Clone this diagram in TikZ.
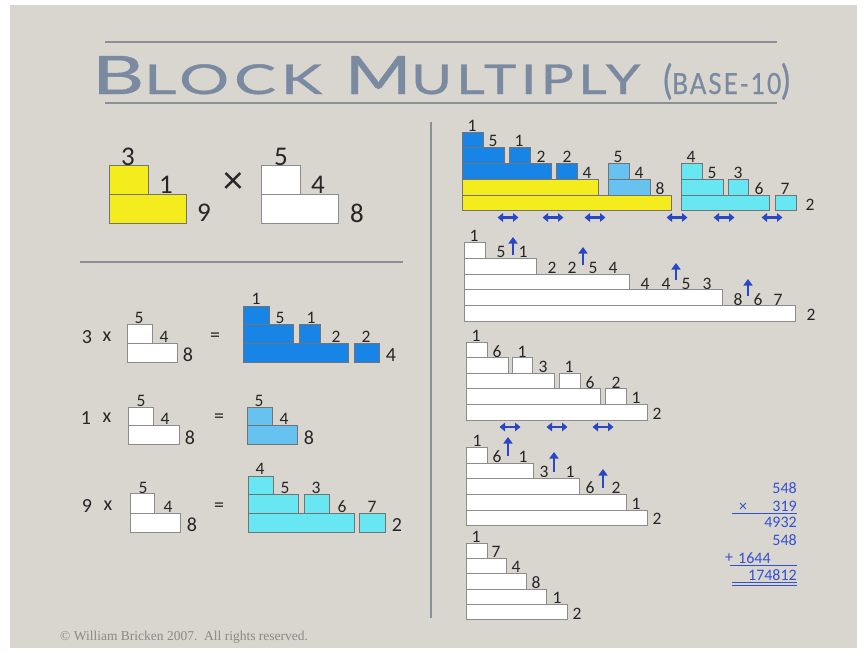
\documentclass[tikz,border=0pt]{standalone}
\usepackage{fontspec}
\setmainfont{Carlito}
\newfontfamily\titlefont[LetterSpace=8,FakeBold=0.8]{Lato}
\newfontfamily\copyfont{Liberation Serif}
\usetikzlibrary{arrows.meta}
\definecolor{slide}{HTML}{D9D6D0}
\definecolor{rulec}{HTML}{8C8F97}
\definecolor{titlec}{HTML}{7A8AA1}
\definecolor{ylw}{HTML}{F5EC1E}
\definecolor{dblue}{HTML}{1784E6}
\definecolor{lblue}{HTML}{68C2F0}
\definecolor{cyanb}{HTML}{68E6F2}
\definecolor{arrowb}{HTML}{2A46C8}
\definecolor{mathb}{HTML}{3450D2}
\definecolor{labc}{HTML}{262626}
\definecolor{copyc}{HTML}{8A8986}
\tikzset{
  blk/.style={draw=black!55, line width=0.7pt},
  wblk/.style={draw=black!45, fill=white, line width=0.8pt},
  lab/.style={inner sep=0pt, text=labc, font=\fontsize{17.5}{17.5}\selectfont},
  biglab/.style={inner sep=0pt, text=labc, font=\fontsize{27}{27}\selectfont},
  midlab/.style={inner sep=0pt, text=labc, font=\fontsize{20}{20}\selectfont},
  uparr/.style={draw=arrowb, line width=2.8pt, -{Triangle[length=6.5pt,width=9pt]}},
  dblarr/.style={draw=arrowb, line width=2.4pt, {Triangle[length=5.5pt,width=8.5pt]}-{Triangle[length=5.5pt,width=8.5pt]}},
  rulel/.style={draw=rulec, line width=1.6pt},
  mathtxt/.style={inner sep=0pt, text=mathb, font=\fontsize{16}{16}\selectfont},
  mathln/.style={draw=mathb, line width=0.9pt},
}
\begin{document}
\begin{tikzpicture}[x=1pt,y=-1pt]
\useasboundingbox (0,0) rectangle (865,651);
\fill[white] (0,0) rectangle (865,651);
\fill[slide] (10,5) rectangle (857,648);

% title
\draw[rulel] (105,42) -- (777,42);
\draw[rulel] (105,103) -- (777,103);
\node[anchor=base west, inner sep=0pt, text=titlec] (t1) at (92,94)
  {\resizebox{230pt}{38pt}{\titlefont\fontsize{40}{40}\selectfont B\fontsize{31}{31}\selectfont LOCK}};
\node[anchor=base west, inner sep=0pt, text=titlec] (t2) at (345,94)
  {\resizebox{295pt}{38pt}{\titlefont\fontsize{40}{40}\selectfont M\fontsize{31}{31}\selectfont ULTIPLY}};
\node[anchor=base west, inner sep=0pt, text=titlec] (t3) at (663,94)
  {\resizebox{127pt}{31pt}{\titlefont\fontsize{33}{33}\selectfont(\fontsize{24}{24}\selectfont BASE-10\fontsize{33}{33}\selectfont)}};

% dividers
\draw[rulel] (80,262) -- (403,262);
\draw[rulel] (431,122) -- (431,618);

% top-left factors
\draw[blk, fill=ylw] (109,165) rectangle (148,194);
\draw[blk, fill=ylw] (109,194) rectangle (186,223);
\draw[wblk] (261,165) rectangle (300,194);
\draw[wblk] (261,194) rectangle (338,223);
\foreach \x/\y/\t [count=\i] in {128/157/3,166/185/1,204/213/9,281/157/5,318/185/4,357/213/8}
  \node[biglab] (tl\i) at (\x,\y) {\t};
\node[inner sep=0pt, text=labc, font=\fontsize{40}{40}\selectfont] (tlx) at (233,183) {×};

% row 3 x
\node[midlab] (r1a) at (87,337) {3};
\node[midlab] (r1b) at (107,337) {x};
\draw[wblk] (127,324) rectangle (152,343);
\draw[wblk] (127,343) rectangle (177,362);
\node[midlab] (r1eq) at (215,337) {=};
\foreach \a/\b/\c/\d in {243/306/269/324,243/324/293/343,299/324/320/343,243/343/348/362,354/343/379/362}
  \draw[blk, fill=dblue] (\a,\b) rectangle (\c,\d);
\foreach \x/\y/\t [count=\i] in {139/318/5,164/337/4,256/299/1,280/318/5,311/318/1,336/337/2,366/337/2}
  \node[lab] (r1l\i) at (\x,\y) {\t};
\node[midlab] (r1l8) at (188,355) {8};
\node[midlab] (r1l9) at (391,355) {4};

% row 1 x
\node[midlab] (r2a) at (86,418) {1};
\node[midlab] (r2b) at (107,418) {x};
\draw[wblk] (128,407) rectangle (153,425);
\draw[wblk] (128,425) rectangle (179,444);
\node[midlab] (r2eq) at (219,418) {=};
\draw[blk, fill=lblue] (247,407) rectangle (272,425);
\draw[blk, fill=lblue] (247,425) rectangle (297,444);
\foreach \x/\y/\t [count=\i] in {141/401/5,165/419/4,259/401/5,284/419/4}
  \node[lab] (r2l\i) at (\x,\y) {\t};
\node[midlab] (r2l5) at (190,438) {8};
\node[midlab] (r2l6) at (309,438) {8};

% row 9 x
\node[midlab] (r3a) at (87,506) {9};
\node[midlab] (r3b) at (108,506) {x};
\draw[wblk] (130,493) rectangle (154,513);
\draw[wblk] (130,513) rectangle (180,532);
\node[midlab] (r3eq) at (219,507) {=};
\foreach \a/\b/\c/\d in {248/476/273/494,248/494/298/513,304/494/329/513,248/513/354/532,359/513/385/532}
  \draw[blk, fill=cyanb] (\a,\b) rectangle (\c,\d);
\foreach \x/\y/\t [count=\i] in {143/488/5,168/507/4,260/469/4,285/488/5,316/488/3,342/507/6,372/507/7}
  \node[lab] (r3l\i) at (\x,\y) {\t};
\node[midlab] (r3l8) at (192,525) {8};
\node[midlab] (r3l9) at (397,525) {2};

% right: stacked partial products
\foreach \a/\b/\c/\d in {462/132/483/147,462/147/504/163,509/147/530/163,462/163/551/179,556/163/577/179}
  \draw[blk, fill=dblue] (\a,\b) rectangle (\c,\d);
\draw[blk, fill=ylw] (462,179) rectangle (598,195);
\draw[blk, fill=ylw] (462,195) rectangle (671,210);
\draw[blk, fill=lblue] (608,163) rectangle (629,179);
\draw[blk, fill=lblue] (608,179) rectangle (650,195);
\foreach \a/\b/\c/\d in {681/163/702/179,681/179/723/195,728/179/748/195,681/195/769/210,775/195/796/210}
  \draw[blk, fill=cyanb] (\a,\b) rectangle (\c,\d);
\foreach \x/\y/\t [count=\i] in {472/126/1,493/141/5,519/141/1,541/157/2,567/157/2,587/173/4,618/157/5,639/173/4,660/189/8,691/157/4,712/173/5,738/173/3,759/189/6,785/189/7,810/205/2}
  \node[lab] (sa\i) at (\x,\y) {\t};
\foreach \x [count=\i] in {508,553,595,677,724,772} {
  \coordinate (da\i l) at (\x-10.5,217.5);
  \coordinate (da\i r) at (\x+10.5,217.5);
  \draw[dblarr] (da\i l) -- (da\i r);
}

% right: step 2
\foreach \a/\b/\c/\d in {464/242/485/258,464/258/536/274,464/274/629/289,464/289/722/305,464/305/795/321}
  \draw[wblk] (\a,\b) rectangle (\c,\d);
\foreach \x/\y/\t [count=\i] in {474/236/1,501/252/5,523/252/1,552/268/2,572/268/2,593/268/5,613/268/4,645/284/4,666/284/4,686/284/5,707/284/3,738/300/8,758/300/6,778/300/7,811/315/2}
  \node[lab] (sb\i) at (\x,\y) {\t};
\foreach \x/\ya/\yb [count=\i] in {513/255/237,583/265/247,676/280/263,748/296/279} {
  \coordinate (ub\i s) at (\x,\ya);
  \coordinate (ub\i e) at (\x,\yb);
  \draw[uparr] (ub\i s) -- (ub\i e);
}

% right: step 3
\foreach \a/\b/\c/\d in {466/342/487/357,466/357/508/373,512/357/532/373,466/373/554/388,559/373/580/388,466/388/600/404,605/388/626/404,466/404/647/420}
  \draw[wblk] (\a,\b) rectangle (\c,\d);
\foreach \x/\y/\t [count=\i] in {476/336/1,497/352/6,522/352/1,543/367/3,569/367/1,590/383/6,616/383/2,636/398/1,657/414/2}
  \node[lab] (sc\i) at (\x,\y) {\t};
\foreach \x [count=\i] in {510,557,603} {
  \coordinate (dc\i l) at (\x-10.5,427);
  \coordinate (dc\i r) at (\x+10.5,427);
  \draw[dblarr] (dc\i l) -- (dc\i r);
}

% right: step 4
\foreach \a/\b/\c/\d in {466/447/487/463,466/463/533/478,466/478/579/494,466/494/626/510,466/510/647/525}
  \draw[wblk] (\a,\b) rectangle (\c,\d);
\foreach \x/\y/\t [count=\i] in {477/441/1,497/457/6,523/457/1,544/472/3,570/472/1,590/488/6,616/488/2,636/504/1,657/519/2}
  \node[lab] (sd\i) at (\x,\y) {\t};
\foreach \x/\ya/\yb [count=\i] in {508/456/437,554/472/452,603/488/469} {
  \coordinate (ud\i s) at (\x,\ya);
  \coordinate (ud\i e) at (\x,\yb);
  \draw[uparr] (ud\i s) -- (ud\i e);
}

% right: result
\foreach \a/\b/\c/\d in {466/543/487/558,466/558/506/573,466/573/526/589,466/589/546/604,466/604/567/619}
  \draw[wblk] (\a,\b) rectangle (\c,\d);
\foreach \x/\y/\t [count=\i] in {476/537/1,496/552/7,516/567/4,536/583/8,557/598/1,577/614/2}
  \node[lab] (se\i) at (\x,\y) {\t};

% column arithmetic
\node[mathtxt, anchor=base east] (m1) at (797,493) {548};
\node[mathtxt] (m2x) at (743,507) {×};
\node[mathtxt, anchor=base east] (m2) at (797,511) {319};
\draw[mathln] (732,513.5) -- (797,513.5);
\node[mathtxt, anchor=base east] (m3) at (797,527) {4932};
\node[mathtxt, anchor=base east] (m4) at (797,545) {548};
\node[mathtxt] (m5p) at (729,558) {+};
\node[mathtxt, anchor=base west] (m5) at (738,563) {1644};
\draw[mathln] (730,565) -- (797,565);
\node[mathtxt, anchor=base east] (m6) at (797,580) {174812};
\draw[mathln] (732,582) -- (797,582);
\draw[mathln] (732,585) -- (797,585);

% copyright
\node[anchor=base west, inner sep=0pt, text=copyc, font=\copyfont\fontsize{13.5}{13.5}\selectfont] (copy) at (60,640) {© William Bricken 2007.\ \ All rights reserved.};
\end{tikzpicture}
\end{document}
